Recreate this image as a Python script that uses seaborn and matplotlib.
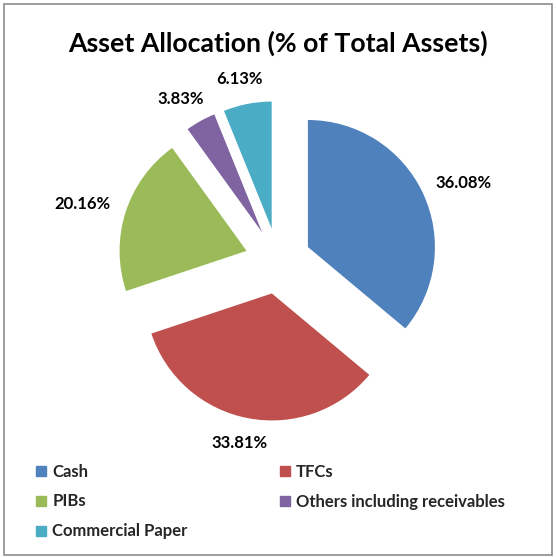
import numpy as np
import matplotlib
matplotlib.use("Agg")
import matplotlib.pyplot as plt
import seaborn as sns
from matplotlib.lines import Line2D
from matplotlib.patches import Rectangle

categories = ["Cash", "TFCs", "PIBs", "Others including receivables", "Commercial Paper"]
values = [36.08, 33.81, 20.16, 3.83, 6.13]
pct_labels = ["36.08%", "33.81%", "20.16%", "3.83%", "6.13%"]
colors = ["#4F81BD", "#C0504D", "#9BBB59", "#8064A2", "#4BACC6"]
title = "Asset Allocation (% of Total Assets)"

sns.set_style("white")
plt.rcParams['font.family'] = ['Lato', 'DejaVu Sans']

W, H = 556, 557
fig = plt.figure(figsize=(W / 100, H / 100), dpi=100)
ax = fig.add_axes([0, 0, 1, 1])

R_PX = 127.0
cx, cy = 278.0, 261.0  # pie centre in px from top-left
explode_frac = 0.26

palette = sns.color_palette(colors)
wedges, _ = ax.pie(values, colors=palette, startangle=90, counterclock=False,
                   explode=[explode_frac] * len(values), radius=1.0,
                   wedgeprops=dict(linewidth=0))

ax.set_aspect('auto')
ax.set_xlim(-cx / R_PX, (W - cx) / R_PX)
ax.set_ylim(-(H - cy) / R_PX, cy / R_PX)
ax.axis('off')

# Labels outside end
fig.canvas.draw()
renderer = fig.canvas.get_renderer()
gap = 17.0 / R_PX
for w, lab in zip(wedges, pct_labels):
    th = np.deg2rad((w.theta1 + w.theta2) / 2)
    ux, uy = np.cos(th), np.sin(th)
    t = ax.text(0, 0, lab, ha='center', va='center', fontsize=12,
                fontweight='bold', color='#000000')
    bb = t.get_window_extent(renderer)
    tw, thh = bb.width / R_PX, bb.height / R_PX
    ox, oy = w.center
    px = ox + (1 + gap) * ux + tw / 2 * ux
    py = oy + (1 + gap) * uy + thh / 2 * uy
    t.set_position((px, py))

fig.text(0.5, 1 - 43 / H, title, ha='center', va='center', fontsize=19.2,
         fontweight='bold', color='#000000')

order = [0, 2, 4, 1, 3]
handles = [Line2D([0], [0], marker='s', linestyle='none', markersize=7.2,
                  markerfacecolor=colors[i], markeredgecolor=colors[i]) for i in order]
labels = [categories[i] for i in order]
fig.legend(handles, labels, ncol=2, loc='upper left',
           bbox_to_anchor=(28 / W, 1 - 457 / H), frameon=False,
           prop=dict(size=12, weight='bold'), handlelength=0.8,
           handletextpad=0.25, columnspacing=5.45, labelspacing=0.83,
           borderaxespad=0)

fig.patches.append(Rectangle((4 / W, 2 / H), (W - 8) / W, (H - 6) / H,
                             transform=fig.transFigure, fill=False,
                             edgecolor='#8c8c8c', linewidth=1.2))

fig.savefig("out.png", dpi=100)
